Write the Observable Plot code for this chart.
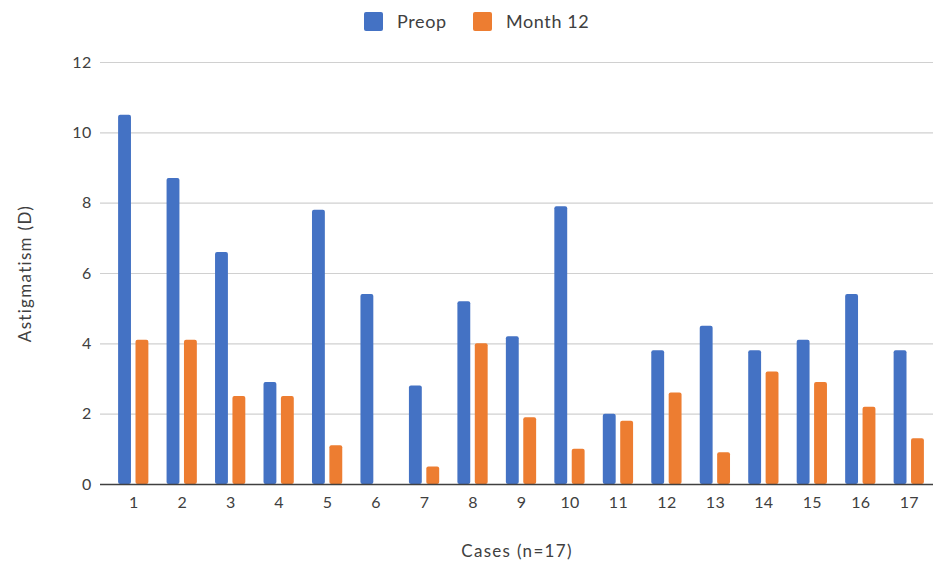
<!DOCTYPE html>
<html><head><meta charset="utf-8">
<script src="https://cdn.jsdelivr.net/npm/d3@7"></script>
<script src="https://cdn.jsdelivr.net/npm/@observablehq/plot@0.6"></script>
<style>
body{margin:0;background:#fff;font-family:Lato,"Open Sans",sans-serif;}
#legend{height:42px;position:relative;font-size:18px;color:#404040;letter-spacing:0.6px;}
.item{position:absolute;top:11px;display:flex;align-items:center;height:20px;}
.sw{width:19px;height:19px;border-radius:2px;margin-right:14px;}
#chart svg g[aria-label$="tick label"] text{font-size:16px;letter-spacing:0.3px;}
#chart svg g[aria-label$="axis label"] text{font-size:17px;letter-spacing:1.3px;}
</style></head><body>
<div id="legend"></div><div id="chart"></div>
<script>
const cases = ["1","2","3","4","5","6","7","8","9","10","11","12","13","14","15","16","17"];
const preop = [10.5, 8.7, 6.6, 2.9, 7.8, 5.4, 2.8, 5.2, 4.2, 7.9, 2.0, 3.8, 4.5, 3.8, 4.1, 5.4, 3.8];
const month12 = [4.1, 4.1, 2.5, 2.5, 1.1, 0, 0.5, 4.0, 1.9, 1.0, 1.8, 2.6, 0.9, 3.2, 2.9, 2.2, 1.3];
const seriesNames = ["Preop", "Month 12"];
const colors = ["#4472C4", "#ED7D31"];
const yTicks = [0, 2, 4, 6, 8, 10, 12];

const legend = document.getElementById("legend");
const lefts = [364, 473];
seriesNames.forEach((s, i) => {
  const d = document.createElement("div");
  d.className = "item";
  d.style.left = lefts[i] + "px";
  d.innerHTML = `<div class="sw" style="background:${colors[i]}"></div><span>${s}</span>`;
  legend.appendChild(d);
});

const rows = [];
cases.forEach((c, i) => {
  rows.push({case: c, series: seriesNames[0], value: preop[i]});
  rows.push({case: c, series: seriesNames[1], value: month12[i]});
});

const chart = Plot.plot({
  width: 933,
  height: 522,
  marginTop: 20,
  marginBottom: 80,
  marginLeft: 100,
  marginRight: 0,
  style: {fontFamily: "Lato, 'Open Sans', sans-serif", fontSize: "14px", color: "#404040", background: "#fff"},
  x: {domain: cases, padding: 0, round: false, insetLeft: 9, tickSize: 0, tickPadding: 12, label: "Cases (n=17)", labelAnchor: "center", labelOffset: 72, labelArrow: false},
  y: {domain: [0, 12], ticks: yTicks, tickSize: 0, tickPadding: 9, label: "Astigmatism (D)", labelAnchor: "center", labelOffset: 82, labelArrow: false},
  color: {domain: seriesNames, range: colors},
  marks: [
    Plot.ruleY(yTicks.slice(1), {stroke: "#d0d0d0", strokeWidth: 1.2}),
    Plot.barY(rows.filter(d => d.series === seriesNames[0]), {x: "case", y: "value", fill: "series", insetLeft: 17.8, insetRight: 17.8, dx: -8.7, rx: 2}),
    Plot.barY(rows.filter(d => d.series === seriesNames[1]), {x: "case", y: "value", fill: "series", insetLeft: 17.8, insetRight: 17.8, dx: 8.7, rx: 2}),
    Plot.ruleY([0], {stroke: "#404040", strokeWidth: 1.5})
  ]
});
document.getElementById("chart").appendChild(chart);
</script>
</body></html>
